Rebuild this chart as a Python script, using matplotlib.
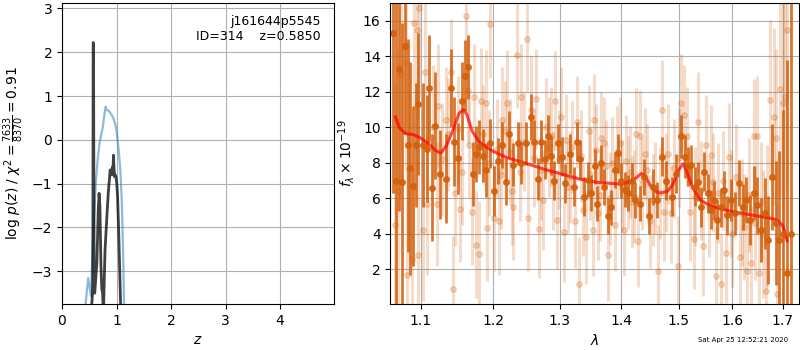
import matplotlib
matplotlib.use('Agg')
import matplotlib.pyplot as plt
from matplotlib.ticker import FixedLocator, NullLocator, NullFormatter

# --- p(z) panel ---
z_prior = [0.42, 0.48, 0.53, 0.574, 0.60, 0.624, 0.655, 0.686, 0.72, 0.748, 0.775, 0.80,
           0.82, 0.85, 0.88, 0.914, 0.945, 0.976, 1.0, 1.02, 1.045, 1.07, 1.09, 1.105, 1.125, 1.14]
logp_prior = [-3.9, -3.15, -3.57, -2.05, -1.45, -0.92, -0.45, -0.09, 0.12, 0.29, 0.55, 0.76,
              0.68, 0.67, 0.63, 0.56, 0.48, 0.37, 0.2, -0.01, -0.3, -0.69, -1.2, -1.75, -2.8, -3.9]

z_fit = [0.53, 0.555, 0.565, 0.572, 0.578, 0.59, 0.60, 0.64, 0.665, 0.68, 0.695, 0.715, 0.73,
         0.745, 0.76, 0.775, 0.79, 0.81, 0.83, 0.852, 0.87, 0.883, 0.895, 0.905, 0.915, 0.926,
         0.935, 0.944, 0.953, 0.963, 0.975, 0.99, 1.005, 1.02, 1.04, 1.055, 1.08]
logp_fit = [-4.0, -3.6, -3.3, 2.22, 2.2, -3.4, -3.5, -2.8, -1.6, -1.22, -1.5, -2.9, -3.4,
            -3.5, -4.0, -3.2, -2.5, -2.05, -1.6, -1.15, -0.9, -0.69, -0.75, -0.68, -0.8, -0.62,
            -0.7, -0.35, -0.6, -0.84, -0.8, -0.85, -1.0, -1.3, -2.1, -2.8, -4.0]

# --- spectrum panel ---
wave_a = [1.0636, 1.068, 1.072, 1.075, 1.079, 1.083, 1.0865, 1.0895, 1.094, 1.096, 1.1026,
          1.1084, 1.1115, 1.115, 1.1196, 1.1265, 1.1344, 1.1407, 1.145, 1.150, 1.156, 1.160,
          1.165, 1.172, 1.1755, 1.180, 1.186, 1.1905, 1.196, 1.201, 1.207, 1.2135, 1.219,
          1.2235, 1.229, 1.236, 1.2415, 1.249, 1.2566, 1.2606, 1.2666, 1.2718, 1.2768, 1.2818,
          1.287, 1.291, 1.297, 1.3036, 1.309, 1.3157, 1.3225, 1.3278, 1.333, 1.338, 1.3447,
          1.350, 1.3559, 1.360, 1.3657, 1.371, 1.3778, 1.383, 1.3889, 1.394, 1.400, 1.4057,
          1.411, 1.418, 1.424, 1.431, 1.439, 1.447, 1.454, 1.462, 1.470, 1.478, 1.4887, 1.496,
          1.505, 1.511, 1.517, 1.523, 1.529, 1.535, 1.541, 1.547, 1.553, 1.559, 1.565, 1.571,
          1.578, 1.584, 1.590, 1.597, 1.605, 1.613, 1.620, 1.627, 1.634, 1.642, 1.649, 1.656,
          1.664, 1.671, 1.679, 1.686, 1.693, 1.701, 1.708, 1.716]
flux_a = [15.3, 7.0, 13.3, 6.9, 14.6, 9.0, 7.7, 6.7, 9.0, 11.3, 9.0,
          8.8, 12.2, 6.6, 10.1, 7.35, 7.1, 12.2, 9.2, 8.25, 11.5, 12.9,
          13.4, 7.35, 8.5, 8.9, 8.4, 7.6, 9.1, 6.4, 8.1, 9.0, 6.95,
          9.6, 7.9, 9.1, 8.0, 9.1, 10.6, 9.2, 7.1, 9.2, 8.2, 9.5,
          8.4, 7.0, 9.1, 8.35, 6.85, 8.5, 6.65, 9.2, 8.2, 6.1, 7.05,
          6.3, 7.8, 5.7, 8.0, 6.65, 5.0, 5.5, 7.6, 8.55, 7.0, 6.5,
          6.3, 7.0, 5.9, 5.7, 7.2, 5.0, 6.65, 5.9, 8.35, 7.0, 6.1, 7.4,
          9.5, 8.35, 7.8, 7.9, 6.65, 6.95, 5.5, 7.5, 6.3, 5.35, 5.9, 4.8,
          5.5, 6.45, 5.05, 5.9, 5.15, 6.85, 5.5, 5.9, 4.8, 6.3, 5.6, 4.2,
          5.15, 3.65, 7.2, 4.6, 3.65, 4.0, 1.8, 4.0]
err_a = [9, 10, 8, 9, 5, 6, 6, 4.5, 3.5, 4, 3.5,
         3, 3, 3, 3, 2.5, 2.5, 2.2, 2.5, 2, 2.2, 2,
         1.8, 1.8, 1.6, 1.5, 1.5, 1.5, 1.4, 1.4, 1.3, 1.3, 1.3,
         1.3, 1.2, 1.2, 1.2, 1.2, 1.3, 1.2, 1.2, 1.2, 1.1, 1.2,
         1.1, 1.1, 1.1, 1.1, 1.1, 1.1, 1.1, 1.1, 1.1, 1.1, 1.0,
         1.0, 1.0, 1.0, 1.0, 1.0, 1.0, 1.0, 1.0, 1.1, 1.0, 1.0,
         1.0, 1.0, 1.0, 1.0, 1.0, 1.0, 1.0, 1.0, 1.1, 1.1, 1.1, 1.1,
         1.2, 1.2, 1.1, 1.1, 1.1, 1.1, 1.1, 1.1, 1.1, 1.1, 1.1, 1.1,
         1.1, 1.1, 1.1, 1.2, 1.2, 1.3, 1.3, 1.3, 1.4, 1.5, 1.6, 1.8,
         2, 2.5, 3, 3.5, 5, 7, 12, 15]

wave_b = [1.066, 1.070, 1.074, 1.081, 1.082, 1.088, 1.091, 1.095, 1.096, 1.098, 1.1026,
          1.106, 1.109, 1.117, 1.1216, 1.1226, 1.128, 1.134, 1.137, 1.1407, 1.143, 1.147,
          1.150, 1.153, 1.156, 1.162, 1.165, 1.166, 1.170, 1.173, 1.176, 1.180, 1.183,
          1.186, 1.190, 1.191, 1.194, 1.196, 1.201, 1.205, 1.2085, 1.211, 1.2135, 1.217,
          1.221, 1.225, 1.227, 1.229, 1.235, 1.239, 1.2415, 1.246, 1.250, 1.252, 1.2566,
          1.260, 1.263, 1.268, 1.271, 1.274, 1.279, 1.283, 1.286, 1.290, 1.293, 1.296,
          1.299, 1.302, 1.307, 1.310, 1.313, 1.316, 1.319, 1.3235, 1.3278, 1.330, 1.334,
          1.337, 1.342, 1.346, 1.349, 1.353, 1.355, 1.358, 1.361, 1.364, 1.367, 1.372,
          1.375, 1.3778, 1.381, 1.384, 1.389, 1.392, 1.397, 1.401, 1.405, 1.408, 1.411,
          1.414, 1.418, 1.421, 1.425, 1.428, 1.432, 1.436, 1.440, 1.444, 1.449, 1.454,
          1.458, 1.463, 1.466, 1.470, 1.473, 1.477, 1.481, 1.487, 1.492, 1.4985, 1.500,
          1.505, 1.510, 1.515, 1.521, 1.527, 1.530, 1.535, 1.540, 1.545, 1.551, 1.556,
          1.5595, 1.564, 1.568, 1.573, 1.578, 1.582, 1.587, 1.593, 1.597, 1.600, 1.607,
          1.614, 1.618, 1.622, 1.629, 1.633, 1.637, 1.642, 1.645, 1.649, 1.652, 1.656,
          1.660, 1.665, 1.669, 1.675, 1.682, 1.687, 1.689, 1.694, 1.700, 1.704, 1.709]
flux_b = [4.5, 6.4, 13.0, 13.6, 1.7, 2.6, 15.9, 15.5, 2.8, 16.7, 4.2,
          13.1, 5.7, 10.0, 5.7, 11.2, 8.2, 10.4, 9.6, 13.1, 0.9, 6.3,
          9.9, 5.4, 7.5, 16.3, 12.1, 9.0, 5.25, 11.7, 3.4, 2.85, 11.5,
          9.6, 11.35, 4.35, 8.0, 15.8, 4.9, 8.8, 4.7, 7.3, 10.4, 9.8,
          11.35, 8.6, 6.4, 5.5, 14.1, 7.5, 11.7, 9.2, 15.0, 4.9, 11.0,
          8.3, 11.6, 4.3, 7.6, 5.9, 10.0, 8.9, 9.5, 7.0, 11.5, 4.8,
          8.2, 10.6, 4.1, 9.3, 6.65, 7.2, 8.9, 4.7, 10.3, 1.2, 8.4,
          5.35, 3.8, 9.8, 7.4, 4.2, 10.4, 8.7, 5.15, 6.2, 9.4, 9.1,
          7.8, 2.8, 6.0, 8.0, 4.5, 8.6, 9.1, 6.7, 4.2, 8.1, 6.9,
          7.5, 5.8, 6.1, 9.6, 3.6, 9.5, 6.8, 8.5, 7.6, 4.7, 5.9,
          6.6, 1.9, 6.3, 11.0, 5.25, 6.9, 8.5, 5.15, 7.7, 2.2, 8.3,
          11.35, 10.7, 9.5, 5.25, 3.7, 6.1, 10.3, 6.45, 3.3, 9.0, 5.5,
          8.45, 6.9, 1.6, 6.3, 1.2, 7.0, 2.9, 8.35, 5.7, 4.0, 7.2,
          2.7, 5.2, 4.4, 1.9, 6.2, 2.35, 9.5, 4.6, 9.5, 1.8, 5.8,
          4.0, 0.8, 5.0, 11.55, 10.6, 9.4, 0.6, 12.15, 11.35, 11.7, 15.5]
err_b = [8, 8, 7, 6, 6, 5, 5, 5, 5, 5, 4,
         4, 4, 3.5, 3.5, 3.5, 3.2, 3, 3.2, 3, 3, 3,
         3, 3, 3, 3, 3, 3, 3, 3, 3, 3, 3,
         2.8, 3, 3, 3, 3, 3, 2.8, 3, 3, 3, 2.8,
         3, 3, 3, 3, 3, 2.8, 3, 2.8, 3, 3, 3,
         2.8, 2.8, 2.8, 2.8, 2.8, 2.8, 2.8, 2.8, 2.8, 2.8, 2.8,
         2.8, 2.8, 2.8, 2.6, 2.6, 2.6, 2.6, 2.6, 2.6, 2.6, 2.6,
         2.6, 2.6, 2.6, 2.6, 2.6, 2.6, 2.6, 2.6, 2.6, 2.6, 2.6,
         2.6, 2.6, 2.6, 2.6, 2.6, 2.6, 2.6, 2.6, 2.6, 2.6, 2.6,
         2.6, 2.6, 2.6, 2.6, 2.6, 2.6, 2.6, 2.6, 2.6, 2.6, 2.6,
         2.6, 2.6, 2.6, 2.8, 2.8, 2.8, 2.8, 2.8, 2.8, 2.8, 2.8,
         2.8, 2.8, 2.8, 2.8, 2.8, 2.8, 2.8, 2.8, 2.8, 2.8, 2.8,
         2.8, 2.8, 2.8, 2.8, 2.8, 2.8, 2.8, 3, 3, 3, 3,
         3, 3, 3, 3, 3.2, 3.2, 3.2, 3.2, 3.4, 3.4, 3.4,
         3.6, 4, 4, 4.5, 5, 5, 5, 6, 7, 8, 9]

wave_model = [1.067, 1.072, 1.08, 1.09, 1.10, 1.11, 1.12, 1.127, 1.135, 1.145, 1.152, 1.158,
              1.163, 1.17, 1.18, 1.19, 1.20, 1.22, 1.25, 1.28, 1.30, 1.33, 1.36, 1.38, 1.40,
              1.415, 1.425, 1.434, 1.44, 1.45, 1.46, 1.467, 1.48, 1.49, 1.50, 1.508, 1.515,
              1.525, 1.54, 1.56, 1.58, 1.60, 1.62, 1.64, 1.66, 1.68, 1.69, 1.70, 1.705, 1.709]
flux_model = [10.6, 10.0, 9.65, 9.6, 9.4, 9.1, 8.7, 8.55, 9.0, 10.0, 10.8, 11.0,
              10.7, 9.8, 9.2, 8.9, 8.65, 8.3, 7.95, 7.6, 7.4, 7.1, 6.9, 6.85, 6.8,
              6.95, 7.15, 7.4, 7.3, 6.7, 6.38, 6.3, 6.4, 6.8, 7.6, 7.95, 7.5,
              6.6, 5.9, 5.55, 5.4, 5.25, 5.15, 5.05, 4.95, 4.85, 4.75, 4.45, 4.0, 3.6]

lam_ticks = [1.1, 1.2, 1.3, 1.4, 1.5, 1.6, 1.7]

root_name = 'j161644p5545'
obj_id = 314
z_best = 0.5850
chi2, dof = 7633, 8370
stamp = 'Sat Apr 25 12:52:21 2020'

orange = '#d35f0a'

fig = plt.figure(figsize=(8, 3.5), dpi=100)
ax1 = fig.add_axes([0.0775, 0.131, 0.34, 0.86])
ax2 = fig.add_axes([0.488, 0.131, 0.5105, 0.86])

ax1.plot(z_prior, logp_prior, color='#1f77b4', alpha=0.5, lw=1.6)
ax1.plot(z_fit, logp_fit, color='k', alpha=0.75, lw=2.0)
ax1.set_xlim(0, 4.99)
ax1.set_ylim(-3.75, 3.12)
ax1.set_yticks([-3, -2, -1, 0, 1, 2, 3])
ax1.set_xticks([0, 1, 2, 3, 4])
ax1.grid()
ax1.set_xlabel(r'$z$')
ax1.set_ylabel(r'log $p(z)$' + ' / ' +
               r'$\chi^2=\frac{%d}{%d}=%.2f$' % (chi2, dof, chi2 / dof))
ax1.text(0.95, 0.96, '%s\nID=%-5d  z=%.4f' % (root_name, obj_id, z_best),
         ha='right', va='top', transform=ax1.transAxes, fontsize=9)

ax2.errorbar(wave_b, flux_b, yerr=err_b, color=orange, alpha=0.22, marker='o',
             markersize=4, linestyle='none', elinewidth=2.2)
ax2.errorbar(wave_a, flux_a, yerr=err_a, color=orange, alpha=0.85, marker='o',
             markersize=4, linestyle='none', elinewidth=2.0)
ax2.plot(wave_model, flux_model, color='r', alpha=0.7, lw=2.2)

ax2.set_xscale('log')
ax2.set_xlim(1.0607, 1.733)
ax2.set_ylim(0.04, 17.0)
ax2.xaxis.set_major_locator(FixedLocator(lam_ticks))
ax2.xaxis.set_minor_locator(NullLocator())
ax2.xaxis.set_minor_formatter(NullFormatter())
ax2.set_xticklabels(['%.1f' % t for t in lam_ticks])
ax2.set_yticks([2, 4, 6, 8, 10, 12, 14, 16])
ax2.grid()
ax2.set_xlabel(r'$\lambda$')
ax2.set_ylabel(r'$f_\lambda \times 10^{-19}$')

fig.text(0.985, 0.02, stamp, ha='right', va='bottom', fontsize=5)

fig.savefig('out.png', dpi=100)
plt.close(fig)
